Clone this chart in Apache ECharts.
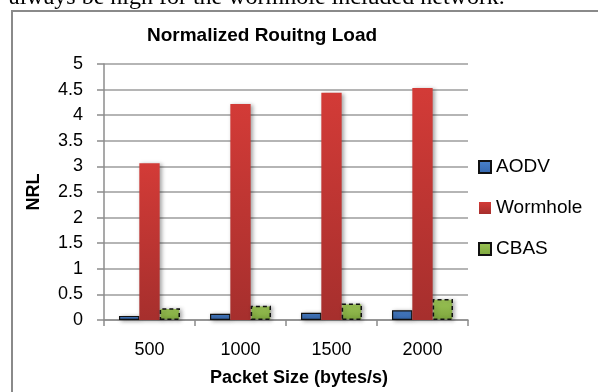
<!DOCTYPE html>
<html>
<head>
<meta charset="utf-8">
<script src="https://cdn.jsdelivr.net/npm/echarts@6/dist/echarts.min.js"></script>
<style>
  html, body { margin: 0; padding: 0; background: #fff; }
  #chart { width: 598px; height: 392px; }
</style>
</head>
<body>
<div id="chart"></div>
<script>
// Packet sizes (bytes/s) on the x axis
const packetSizes = ['500', '1000', '1500', '2000'];
// Normalized routing load per protocol
const aodv = [0.08, 0.12, 0.14, 0.19];
const wormhole = [3.06, 4.22, 4.44, 4.53];
const cbas = [0.23, 0.28, 0.32, 0.41];

const font = 'Liberation Sans';

function vgrad(top, bottom) {
  return new echarts.graphic.LinearGradient(0, 0, 0, 1, [
    { offset: 0, color: top },
    { offset: 1, color: bottom }
  ]);
}

const shadow = {
  shadowBlur: 4,
  shadowOffsetX: 2,
  shadowOffsetY: 1,
  shadowColor: 'rgba(0,0,0,0.35)'
};

const chart = echarts.init(document.getElementById('chart'), null, { renderer: 'canvas' });

chart.setOption({
  animation: false,
  backgroundColor: '#fff',
  title: {
    text: 'Normalized Rouitng Load',
    left: 257,
    top: 21,
    textAlign: 'center',
    textStyle: { fontFamily: font, fontSize: 19, fontWeight: 'bold', color: '#000' }
  },
  graphic: [
    {
      type: 'rect',
      shape: { x: 12, y: 11, width: 620, height: 420 },
      style: { fill: 'none', stroke: '#8a8a8a', lineWidth: 2 },
      z: -1
    },
    {
      type: 'text',
      x: 9,
      y: 10,
      style: {
        text: 'always be high for the wormhole included network.',
        fontFamily: 'Liberation Serif',
        fontSize: 24,
        fill: '#000',
        verticalAlign: 'bottom'
      }
    }
  ],
  legend: {
    orient: 'vertical',
    left: 473,
    top: 152,
    itemWidth: 12,
    itemHeight: 12,
    itemGap: 21,
    icon: 'rect',
    textStyle: { fontFamily: font, fontSize: 19, color: '#000', lineHeight: 20 },
    data: ['AODV', 'Wormhole', 'CBAS']
  },
  grid: { left: 104, top: 64, width: 364, height: 258, containLabel: false },
  xAxis: {
    type: 'category',
    data: packetSizes,
    name: 'Packet Size (bytes/s)',
    nameLocation: 'middle',
    nameGap: 49,
    nameTextStyle: { fontFamily: font, fontSize: 18, fontWeight: 'bold', color: '#000', padding: [0, 0, 0, 26] },
    axisLine: { lineStyle: { color: '#8c8c8c', width: 1.5 } },
    axisTick: { show: true, length: 6, alignWithLabel: false, lineStyle: { color: '#8c8c8c', width: 1.5 } },
    axisLabel: { margin: 21, fontFamily: font, fontSize: 18, color: '#000' },
    splitLine: { show: false }
  },
  yAxis: {
    type: 'value',
    min: 0,
    max: 5,
    interval: 0.5,
    name: 'NRL',
    nameLocation: 'middle',
    nameGap: 61,
    nameRotate: 90,
    nameTextStyle: { fontFamily: font, fontSize: 18, fontWeight: 'bold', color: '#000' },
    axisLine: { show: true, lineStyle: { color: '#8c8c8c', width: 1.5 } },
    axisTick: { show: true, length: 7, lineStyle: { color: '#8c8c8c', width: 1.5 } },
    axisLabel: { margin: 21, fontFamily: font, fontSize: 18, color: '#000' },
    splitLine: { show: true, lineStyle: { color: '#9c9c9c', width: 1.5 } }
  },
  series: [
    {
      name: 'AODV',
      type: 'bar',
      data: aodv,
      barGap: '0%',
      barCategoryGap: '33%',
      itemStyle: Object.assign({
        color: vgrad('#4a82cc', '#3567ad'),
        borderColor: '#111',
        borderWidth: 1.2
      }, shadow)
    },
    {
      name: 'Wormhole',
      type: 'bar',
      data: wormhole,
      itemStyle: Object.assign({
        color: vgrad('#d33b37', '#a62f2d')
      }, shadow)
    },
    {
      name: 'CBAS',
      type: 'bar',
      data: cbas,
      itemStyle: Object.assign({
        color: vgrad('#9cc456', '#7da63d'),
        borderColor: '#111',
        borderWidth: 1.5,
        borderType: [4, 3]
      }, shadow)
    }
  ]
});
</script>
</body>
</html>
